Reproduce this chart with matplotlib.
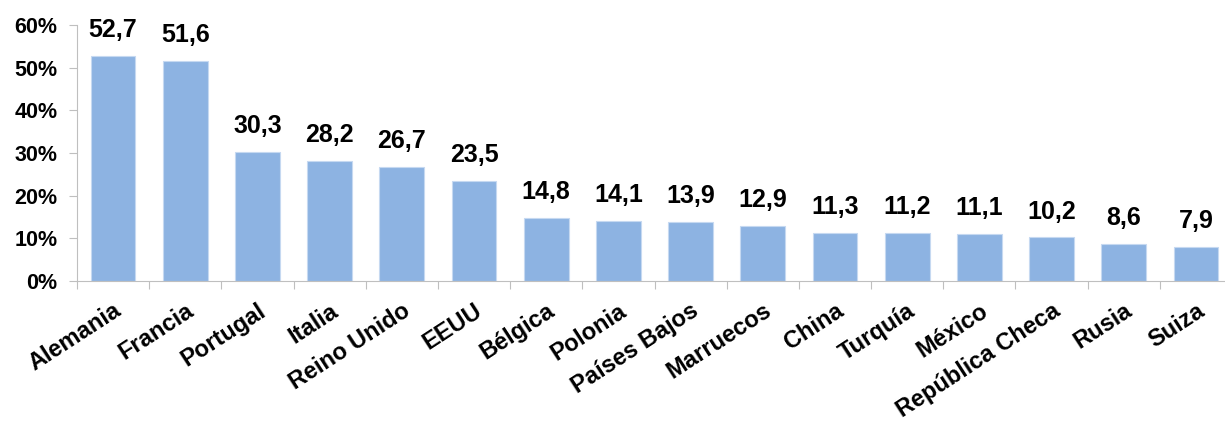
import matplotlib.pyplot as plt
from matplotlib.ticker import FuncFormatter

plt.rcParams['font.family'] = ['Liberation Sans', 'DejaVu Sans']
plt.rcParams['font.weight'] = 'bold'

# datos
paises = ['Alemania', 'Francia', 'Portugal', 'Italia', 'Reino Unido', 'EEUU',
          'Bélgica', 'Polonia', 'Países Bajos', 'Marruecos', 'China', 'Turquía',
          'México', 'República Checa', 'Rusia', 'Suiza']
valores = [52.7, 51.6, 30.3, 28.2, 26.7, 23.5, 14.8, 14.1, 13.9, 12.9,
           11.3, 11.2, 11.1, 10.2, 8.6, 7.9]
yticks = [0, 10, 20, 30, 40, 50, 60]

fig = plt.figure(figsize=(12.25, 4.26), dpi=100)
# el eje sigue un poco mas alla del borde derecho de la figura
ax = fig.add_axes([77 / 1225, 1 - 281 / 426, (1232 - 77) / 1225, (281 - 25) / 426])

x = range(len(paises))
ax.bar(x, valores, width=0.62, color='#8DB3E2', edgecolor='#C6D9F1', linewidth=0.8)

for xi, v in zip(x, valores):
    ax.annotate(('%.1f' % v).replace('.', ','), (xi, v), xytext=(0, 10),
                textcoords='offset points', ha='center', va='bottom',
                fontsize=18, fontweight='bold')

ax.set_xlim(-0.5, len(paises) - 0.5)
ax.set_ylim(0, 60)
ax.set_yticks(yticks)
ax.yaxis.set_major_formatter(FuncFormatter(lambda v, p: '%d%%' % v))

# marcas entre categorias
ax.set_xticks([i - 0.5 for i in range(len(paises) + 1)])
ax.set_xticklabels([])
ax.set_xticks(list(x), minor=True)
ax.set_xticklabels(paises, minor=True, rotation=33, ha='right',
                   rotation_mode='anchor', fontsize=17, fontweight='bold')
ax.tick_params(axis='x', which='minor', length=0, pad=13)
ax.tick_params(axis='x', which='major', length=6, color='#BFBFBF')
ax.tick_params(axis='y', length=6, color='#BFBFBF', labelsize=15.5, pad=8)

for s in ['top', 'right']:
    ax.spines[s].set_visible(False)
for s in ['left', 'bottom']:
    ax.spines[s].set_color('#BFBFBF')

fig.savefig('out.png', dpi=100)
